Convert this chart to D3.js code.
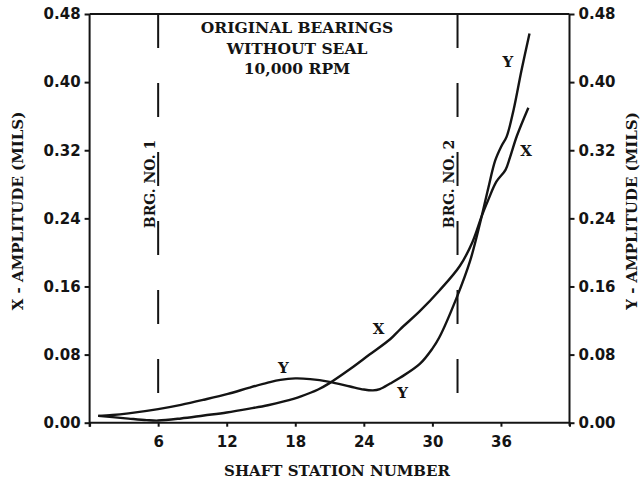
<!DOCTYPE html>
<html>
<head>
<meta charset="utf-8">
<script src="https://cdn.jsdelivr.net/npm/d3@7"></script>
<style>
  html, body { margin: 0; padding: 0; background: #fff; }
  svg { display: block; }
  .serif { font-family: "DejaVu Serif", serif; font-weight: bold; fill: #141414; }
  .tick text { font-family: "DejaVu Sans", sans-serif; font-weight: bold; font-size: 15px; fill: #141414; }
</style>
</head>
<body>
<svg id="chart" width="641" height="482"></svg>
<script>
// Shaft response, original bearings without seal, 10,000 RPM
const xStations = [0.75, 2, 3.4, 5, 6, 8, 10, 12, 14, 15.6, 17, 18.5, 20, 21, 22.8, 24.5, 26.3, 27.2, 28.9, 30.6, 32.4, 33.5, 34.3, 34.9, 35.6, 36.4, 36.8, 37.4, 38.4];
const xAmplitude = [0.008, 0.0065, 0.0048, 0.003, 0.0025, 0.005, 0.0085, 0.012, 0.0165, 0.0205, 0.025, 0.031, 0.039, 0.0465, 0.063, 0.080, 0.098, 0.110, 0.131, 0.155, 0.184, 0.212, 0.242, 0.262, 0.283, 0.297, 0.312, 0.337, 0.370];

const yStations = [0.75, 2, 3.4, 6, 8, 10, 12.1, 14, 15.6, 16.7, 18, 19.3, 21, 22.8, 24, 24.8, 25.4, 26.3, 27.2, 28.9, 30, 30.6, 32.1, 33.3, 34.2, 34.9, 35.5, 36.05, 36.5, 37.1, 37.8, 38.5];
const yAmplitude = [0.008, 0.009, 0.011, 0.016, 0.021, 0.027, 0.0338, 0.0412, 0.047, 0.0503, 0.052, 0.0512, 0.048, 0.0425, 0.039, 0.038, 0.0395, 0.046, 0.053, 0.069, 0.087, 0.100, 0.146, 0.190, 0.236, 0.276, 0.308, 0.325, 0.336, 0.367, 0.414, 0.457];

const stationTicks = [0, 6, 12, 18, 24, 30, 36, 42];
const amplitudeTicks = [0, 0.08, 0.16, 0.24, 0.32, 0.40, 0.48];

const bearingStations = [6, 32.2];
const bearingNames = ["BRG. NO. 1", "BRG. NO. 2"];

const curveLabels = ["Y", "X", "Y", "Y", "X"];
const curveLabelStations = [16.95, 25.3, 27.4, 36.6, 38.2];
const curveLabelAmps = [0.065, 0.111, 0.035, 0.424, 0.320];

const titleLines = ["ORIGINAL BEARINGS", "WITHOUT SEAL", "10,000 RPM"];

const svg = d3.select("#chart");
const ink = "#141414";

const x = d3.scaleLinear().domain([0, 42]).range([89.6, 569.5]);
const y = d3.scaleLinear().domain([0, 0.48]).range([422.7, 14]);

// frame: left, right, top, bottom
const frame = svg.append("g").attr("stroke", ink).attr("stroke-width", 2).attr("fill", "none");
frame.append("line").attr("x1", x(0)).attr("x2", x(0)).attr("y1", y(0.48)).attr("y2", y(0) + 4);
frame.append("line").attr("x1", x(42)).attr("x2", x(42)).attr("y1", y(0.48)).attr("y2", y(0) + 3);
frame.append("line").attr("x1", x(0)).attr("x2", x(42)).attr("y1", y(0.48)).attr("y2", y(0.48));
frame.append("line").attr("x1", x(0)).attr("x2", x(42)).attr("y1", y(0)).attr("y2", y(0));

function styleAxis(g) {
  g.select(".domain").remove();
  g.selectAll(".tick line").attr("stroke", ink).attr("stroke-width", 2);
}

svg.append("g")
  .attr("transform", `translate(0,${y(0)})`)
  .call(d3.axisBottom(x).tickValues(stationTicks).tickSize(4).tickPadding(10)
    .tickFormat(d => (d === 0 || d === 42) ? "" : d))
  .call(styleAxis)
  .call(g => g.selectAll(".tick text").attr("dy", "0.71em"));

svg.append("g")
  .attr("transform", `translate(${x(0)},0)`)
  .call(d3.axisLeft(y).tickValues(amplitudeTicks).tickSize(5).tickPadding(4).tickFormat(d3.format(".2f")))
  .call(styleAxis);

svg.append("g")
  .attr("transform", `translate(${x(42)},0)`)
  .call(d3.axisRight(y).tickValues(amplitudeTicks).tickSize(5).tickPadding(4).tickFormat(d3.format(".2f")))
  .call(styleAxis);

// bearing locations
bearingStations.forEach((s, i) => {
  svg.append("line")
    .attr("x1", x(s)).attr("x2", x(s))
    .attr("y1", y(0.48)).attr("y2", y(0))
    .attr("stroke", ink).attr("stroke-width", 2)
    .attr("stroke-dasharray", "34,35");
  svg.append("text")
    .attr("class", "serif")
    .attr("font-size", 14)
    .attr("text-anchor", "middle")
    .attr("transform", `translate(${x(s) - 3.5},${184}) rotate(-90)`)
    .text(bearingNames[i]);
});

// amplitude curves
const line = d3.line()
  .x(d => x(d[0]))
  .y(d => y(d[1]))
  .curve(d3.curveCatmullRom.alpha(0.5));

svg.append("path")
  .datum(xStations.map((s, i) => [s, xAmplitude[i]]))
  .attr("d", line)
  .attr("fill", "none").attr("stroke", ink).attr("stroke-width", 2.4);

svg.append("path")
  .datum(yStations.map((s, i) => [s, yAmplitude[i]]))
  .attr("d", line)
  .attr("fill", "none").attr("stroke", ink).attr("stroke-width", 2.4);

curveLabels.forEach((t, i) => {
  svg.append("text")
    .attr("class", "serif")
    .attr("font-size", 15)
    .attr("text-anchor", "middle")
    .attr("x", x(curveLabelStations[i]))
    .attr("y", y(curveLabelAmps[i]) + 5.5)
    .text(t);
});

// title block
titleLines.forEach((t, i) => {
  svg.append("text")
    .attr("class", "serif")
    .attr("font-size", 15.5)
    .attr("text-anchor", "middle")
    .attr("x", 297)
    .attr("y", 33 + i * 20.7)
    .text(t);
});

// axis titles
svg.append("text")
  .attr("class", "serif")
  .attr("font-size", 15)
  .attr("text-anchor", "middle")
  .attr("x", 337).attr("y", 476)
  .text("SHAFT STATION NUMBER");

svg.append("text")
  .attr("class", "serif")
  .attr("font-size", 15)
  .attr("text-anchor", "middle")
  .attr("transform", "translate(23,211) rotate(-90)")
  .text("X - AMPLITUDE (MILS)");

svg.append("text")
  .attr("class", "serif")
  .attr("font-size", 15)
  .attr("text-anchor", "middle")
  .attr("transform", "translate(637,211) rotate(-90)")
  .text("Y - AMPLITUDE (MILS)");
</script>
</body>
</html>
